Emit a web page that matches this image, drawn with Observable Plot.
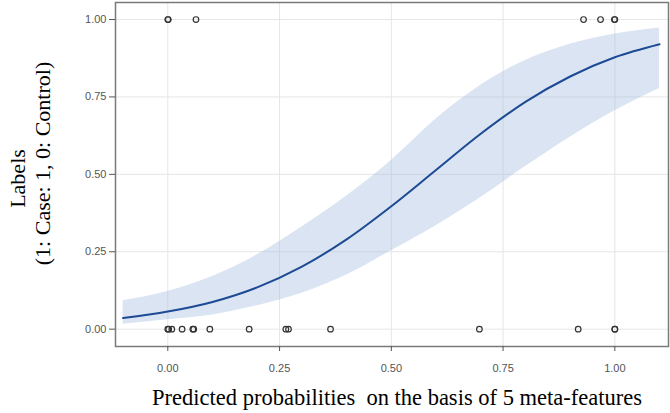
<!DOCTYPE html>
<html>
<head>
<meta charset="utf-8">
<script src="https://cdn.jsdelivr.net/npm/d3@7"></script>
<script src="https://cdn.jsdelivr.net/npm/@observablehq/plot@0.6"></script>
<style>
  html, body { margin: 0; padding: 0; background: #fff; }
</style>
</head>
<body>
<div id="chart"></div>
<script>
// Fitted curve and confidence band
const curveX  = [-0.1, 0.0, 0.1, 0.2, 0.3, 0.4, 0.5, 0.6, 0.7, 0.8, 0.9, 1.0, 1.1];
const curveY  = [0.036, 0.057, 0.088, 0.135, 0.202, 0.290, 0.397, 0.514, 0.631, 0.734, 0.816, 0.878, 0.920];
const bandLow = [0.016, 0.030, 0.046, 0.076, 0.116, 0.175, 0.253, 0.334, 0.425, 0.525, 0.620, 0.705, 0.777];
const bandHigh= [0.092, 0.122, 0.170, 0.240, 0.330, 0.430, 0.545, 0.679, 0.788, 0.868, 0.920, 0.953, 0.973];

// Observed labels (open circles)
const controlX = [0.0, 0.002, 0.009, 0.032, 0.056, 0.058, 0.094, 0.182, 0.264, 0.270, 0.364, 0.697, 0.918, 1.0, 1.0];
const caseX    = [0.0, 0.001, 0.063, 0.930, 0.968, 0.999, 1.0];

const xTicks = [0, 0.25, 0.5, 0.75, 1.0];
const yTicks = [0, 0.25, 0.5, 0.75, 1.0];
const xTitle = "Predicted probabilities  on the basis of 5 meta-features";
const yTitle1 = "Labels";
const yTitle2 = "(1: Case: 1, 0: Control)";

const curve = curveX.map((x, i) => ({x, y: curveY[i], lo: bandLow[i], hi: bandHigh[i]}));
const points = [
  ...controlX.map(x => ({x, y: 0})),
  ...caseX.map(x => ({x, y: 1}))
];

const fmt = d3.format(".2f");
const serif = "'Liberation Serif', 'Times New Roman', serif";

const chart = Plot.plot({
  width: 670,
  height: 413,
  marginLeft: 115,
  marginRight: 2,
  marginTop: 2,
  marginBottom: 67,
  style: {fontFamily: "'Liberation Sans', Arial, sans-serif", background: "#fff"},
  x: {domain: [-0.117, 1.12]},
  y: {domain: [-0.056, 1.055]},
  marks: [
    Plot.gridX(xTicks, {stroke: "#e6e6e6", strokeOpacity: 1, strokeWidth: 1}),
    Plot.gridY(yTicks, {stroke: "#e6e6e6", strokeOpacity: 1, strokeWidth: 1}),
    Plot.areaY(curve, {x: "x", y1: "lo", y2: "hi", fill: "#a2bbde", fillOpacity: 0.4, curve: "monotone-x"}),
    Plot.line(curve, {x: "x", y: "y", stroke: "#1d4a94", strokeWidth: 2, curve: "monotone-x"}),
    Plot.dot(points, {x: "x", y: "y", r: 2.8, stroke: "#333", strokeWidth: 1.2, fill: "none"}),
    Plot.frame({stroke: "#7a7a7a", strokeWidth: 1.5}),
    Plot.axisX(xTicks, {tickFormat: fmt, tickSize: 5, tickPadding: 13, fontSize: 11, color: "#555", label: null}),
    Plot.axisY(yTicks, {tickFormat: fmt, tickSize: 6, tickPadding: 3, fontSize: 11, color: "#555", label: null}),
    Plot.text([xTitle], {text: d => d, frameAnchor: "bottom", textAnchor: "middle", dx: 5, dy: 58, fontSize: 22.5, fontFamily: serif, fill: "#000"}),
    Plot.text([yTitle1], {text: d => d, frameAnchor: "left", textAnchor: "middle", dx: -98, dy: 4, rotate: -90, fontSize: 22, fontFamily: serif, fill: "#000"}),
    Plot.text([yTitle2], {text: d => d, frameAnchor: "left", textAnchor: "middle", dx: -73, dy: -11, rotate: -90, fontSize: 22, fontFamily: serif, fill: "#000"})
  ]
});
document.getElementById("chart").appendChild(chart);
</script>
</body>
</html>
